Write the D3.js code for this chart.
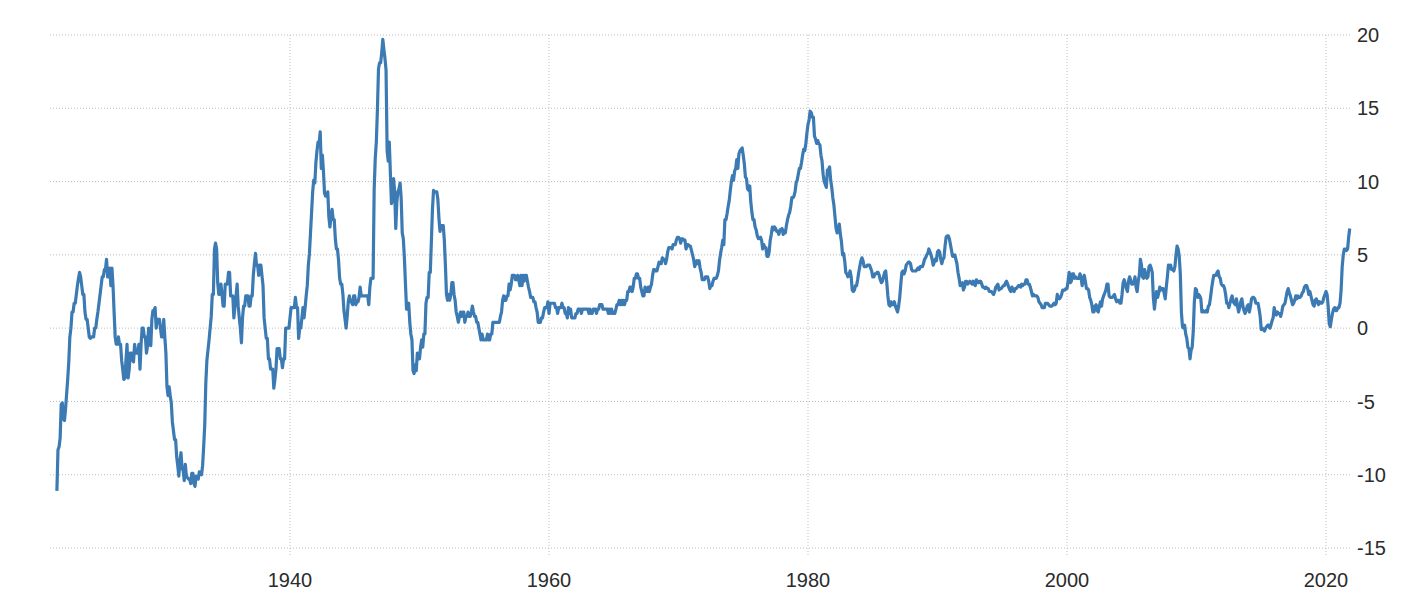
<!DOCTYPE html>
<html>
<head>
<meta charset="utf-8">
<script src="https://cdn.jsdelivr.net/npm/d3@7"></script>
<style>
  html, body { margin: 0; padding: 0; background: #ffffff; }
  svg { display: block; }
</style>
</head>
<body>
<svg id="chart" width="1420" height="609"></svg>
<script>
// US inflation rate, year-on-year %, monthly from Jan 1922 to Nov 2021
const startYear = 1922;
const inflation = [
  // 1922
  -11.1, -8.3, -8.1, -7.5, -5.2, -5.1, -6.2, -6.3, -5.5, -4.5, -3.5, -2.3,
  // 1923
  -0.6, 0.0, 1.1, 1.1, 1.7, 1.7, 2.3, 2.9, 3.4, 3.8, 3.5, 2.9,
  // 1924
  2.3, 2.3, 1.1, 0.6, 0.6, 0.0, -0.6, -0.7, -0.6, -0.6, -0.6, 0.0,
  // 1925
  0.0, 0.6, 1.1, 1.7, 2.3, 2.9, 3.5, 3.5, 4.0, 4.0, 4.7, 3.5,
  // 1926
  3.5, 4.1, 2.9, 4.1, 2.9, 1.1, -0.6, -1.1, -1.1, -0.6, -1.1, -1.1,
  // 1927
  -2.2, -2.8, -3.5, -3.4, -2.2, -1.1, -3.4, -2.8, -1.7, -1.7, -2.2, -2.3,
  // 1928
  -1.1, -1.7, -1.7, -1.7, -1.1, -2.8, -1.1, 0.0, 0.0, -0.6, -0.6, -1.7,
  // 1929
  -1.2, 0.0, -0.6, -1.2, 0.6, 1.2, 1.2, 1.4, 0.0, 0.6, 0.6, 0.6,
  // 1930
  0.0, -0.6, -0.6, 0.6, -0.6, -1.7, -4.0, -4.6, -4.0, -4.6, -5.1, -6.4,
  // 1931
  -7.0, -7.6, -7.6, -8.8, -9.4, -10.1, -9.0, -8.5, -9.6, -9.7, -10.4, -9.3,
  // 1932
  -10.1, -10.2, -10.3, -10.3, -10.6, -9.9, -9.9, -10.6, -10.8, -10.1, -10.2, -10.3,
  // 1933
  -9.8, -9.9, -10.0, -9.4, -8.1, -6.6, -3.7, -2.2, -1.5, -0.8, 0.0, 0.8,
  // 1934
  2.3, 2.3, 5.4, 5.8, 5.4, 3.1, 2.3, 2.3, 3.0, 2.3, 1.5, 1.5,
  // 1935
  3.0, 3.0, 3.0, 3.8, 3.8, 2.2, 2.2, 2.2, 0.7, 1.5, 2.2, 3.0,
  // 1936
  1.5, 0.7, 0.0, -1.0, 0.7, 1.5, 1.5, 2.2, 2.2, 2.2, 1.5, 1.5,
  // 1937
  2.2, 2.2, 3.6, 4.4, 5.1, 4.3, 4.3, 3.6, 4.3, 4.3, 3.6, 2.9,
  // 1938
  0.7, 0.0, -0.7, -0.7, -2.1, -2.1, -2.8, -2.8, -2.8, -4.1, -3.5, -2.8,
  // 1939
  -1.4, -1.4, -1.4, -2.1, -2.1, -2.7, -2.1, -2.1, 0.0, 0.0, 0.0, 0.0,
  // 1940
  0.7, 1.4, 1.4, 1.4, 1.4, 2.1, 1.4, 1.4, -0.7, 0.0, 0.0, 0.7,
  // 1941
  1.4, 0.7, 1.4, 2.2, 2.9, 4.3, 5.1, 6.5, 7.9, 9.3, 10.1, 9.9,
  // 1942
  11.3, 12.1, 12.7, 12.6, 13.4, 10.9, 11.8, 10.7, 9.2, 9.0, 9.0, 9.3,
  // 1943
  7.6, 6.9, 7.6, 8.1, 7.4, 7.4, 6.1, 5.4, 5.4, 4.6, 3.4, 3.0,
  // 1944
  3.0, 2.3, 1.2, 0.6, 0.0, 0.8, 1.8, 2.2, 1.8, 1.8, 1.6, 2.2,
  // 1945
  2.2, 1.6, 1.8, 1.8, 2.1, 2.8, 2.2, 2.2, 2.2, 2.2, 2.2, 2.2,
  // 1946
  2.2, 1.6, 2.8, 3.4, 3.4, 3.4, 9.5, 11.6, 12.7, 14.9, 17.7, 18.1,
  // 1947
  18.1, 18.8, 19.7, 19.0, 18.4, 17.6, 12.1, 11.4, 12.7, 10.6, 8.5, 8.8,
  // 1948
  10.2, 9.3, 6.8, 8.6, 9.3, 9.5, 9.9, 8.9, 6.5, 6.1, 4.8, 3.0,
  // 1949
  1.3, 1.3, 1.7, 0.4, -0.4, -0.8, -2.9, -3.1, -2.5, -2.9, -1.7, -2.1,
  // 1950
  -2.1, -1.3, -0.8, -1.3, -0.4, -0.4, 1.7, 2.1, 2.1, 3.8, 3.8, 5.9,
  // 1951
  8.1, 9.4, 9.3, 9.3, 9.3, 8.8, 7.5, 6.6, 7.0, 7.0, 7.0, 6.0,
  // 1952
  4.3, 2.3, 1.9, 2.3, 1.9, 2.3, 3.1, 3.1, 2.3, 1.9, 1.1, 0.8,
  // 1953
  0.4, 0.8, 1.1, 0.8, 1.1, 1.1, 0.4, 0.8, 0.8, 1.1, 0.8, 0.8,
  // 1954
  1.1, 1.5, 1.1, 0.8, 0.8, 0.4, 0.4, 0.0, -0.4, -0.8, -0.4, -0.8,
  // 1955
  -0.8, -0.8, -0.8, -0.4, -0.8, -0.8, -0.4, -0.4, 0.4, 0.4, 0.4, 0.4,
  // 1956
  0.4, 0.4, 0.4, 0.8, 1.1, 1.9, 2.2, 1.9, 1.9, 2.2, 2.2, 3.0,
  // 1957
  2.6, 3.0, 3.6, 3.6, 3.6, 3.3, 3.3, 3.6, 3.3, 2.9, 3.6, 2.9,
  // 1958
  3.6, 3.2, 3.6, 3.6, 3.2, 2.8, 2.5, 2.1, 2.1, 2.1, 1.8, 1.8,
  // 1959
  1.4, 1.1, 0.4, 0.4, 0.4, 0.7, 0.7, 1.1, 1.4, 1.4, 1.4, 1.8,
  // 1960
  1.0, 1.7, 1.7, 1.7, 1.7, 1.7, 1.4, 1.4, 1.0, 1.4, 1.4, 1.4,
  // 1961
  1.7, 1.4, 1.4, 1.0, 1.0, 0.7, 1.4, 1.0, 1.3, 0.7, 0.7, 0.7,
  // 1962
  0.7, 1.0, 1.0, 1.3, 1.3, 1.3, 1.0, 1.3, 1.3, 1.3, 1.3, 1.3,
  // 1963
  1.3, 1.0, 1.3, 1.0, 1.0, 1.3, 1.3, 1.3, 1.0, 1.3, 1.3, 1.6,
  // 1964
  1.6, 1.6, 1.3, 1.3, 1.3, 1.3, 1.3, 1.0, 1.3, 1.0, 1.3, 1.0,
  // 1965
  1.0, 1.0, 1.3, 1.6, 1.6, 1.9, 1.6, 1.9, 1.6, 1.9, 1.6, 1.9,
  // 1966
  1.9, 2.5, 2.5, 2.8, 2.8, 2.5, 2.8, 3.4, 3.4, 3.7, 3.7, 3.4,
  // 1967
  3.4, 2.8, 2.5, 2.2, 2.2, 2.8, 2.5, 2.5, 2.8, 2.5, 2.8, 3.0,
  // 1968
  3.6, 4.0, 4.0, 3.9, 3.9, 4.2, 4.5, 4.4, 4.4, 4.8, 4.7, 4.7,
  // 1969
  4.4, 4.7, 5.2, 5.5, 5.5, 5.5, 5.4, 5.7, 5.7, 5.7, 6.0, 6.2,
  // 1970
  6.2, 6.1, 5.8, 6.1, 6.1, 6.0, 6.0, 5.4, 5.7, 5.7, 5.6, 5.6,
  // 1971
  5.3, 5.0, 4.7, 4.2, 4.4, 4.6, 4.4, 4.6, 4.1, 3.8, 3.3, 3.3,
  // 1972
  3.3, 3.5, 3.5, 3.5, 3.2, 2.7, 2.9, 2.9, 3.2, 3.4, 3.4, 3.4,
  // 1973
  3.6, 3.9, 4.6, 5.1, 5.5, 6.0, 5.7, 7.4, 7.4, 7.8, 8.3, 8.7,
  // 1974
  9.4, 10.0, 10.4, 10.1, 10.7, 10.9, 11.5, 10.9, 11.9, 12.1, 12.2, 12.3,
  // 1975
  11.8, 11.2, 10.3, 10.2, 9.5, 9.4, 9.7, 8.6, 7.9, 7.4, 7.4, 6.9,
  // 1976
  6.7, 6.3, 6.1, 6.1, 6.2, 6.0, 5.4, 5.7, 5.5, 5.5, 4.9, 4.9,
  // 1977
  5.2, 6.0, 6.4, 6.9, 6.7, 6.9, 6.8, 6.6, 6.6, 6.4, 6.7, 6.7,
  // 1978
  6.8, 6.4, 6.6, 6.5, 7.0, 7.4, 7.7, 7.9, 8.3, 8.9, 8.9, 9.0,
  // 1979
  9.3, 9.9, 10.1, 10.5, 10.9, 10.9, 11.3, 11.8, 12.2, 12.1, 12.6, 13.3,
  // 1980
  13.9, 14.2, 14.8, 14.7, 14.4, 14.4, 13.1, 12.9, 12.6, 12.8, 12.6, 12.5,
  // 1981
  11.8, 11.4, 10.5, 10.0, 9.8, 9.6, 10.8, 10.8, 11.0, 10.1, 9.6, 8.9,
  // 1982
  8.4, 7.6, 6.8, 6.5, 6.7, 7.1, 6.4, 5.9, 5.0, 5.1, 4.6, 3.8,
  // 1983
  3.7, 3.5, 3.6, 3.9, 3.5, 2.6, 2.5, 2.6, 2.9, 2.9, 3.3, 3.8,
  // 1984
  4.2, 4.6, 4.8, 4.6, 4.2, 4.2, 4.2, 4.3, 4.3, 4.3, 4.1, 3.9,
  // 1985
  3.5, 3.5, 3.7, 3.7, 3.8, 3.8, 3.6, 3.3, 3.1, 3.2, 3.5, 3.8,
  // 1986
  3.9, 3.1, 2.2, 1.6, 1.5, 1.8, 1.6, 1.6, 1.8, 1.5, 1.3, 1.1,
  // 1987
  1.5, 2.1, 3.0, 3.8, 3.9, 3.7, 3.9, 4.3, 4.4, 4.5, 4.5, 4.4,
  // 1988
  4.0, 3.9, 3.9, 3.9, 3.9, 4.0, 4.1, 4.0, 4.2, 4.2, 4.2, 4.4,
  // 1989
  4.7, 4.8, 5.0, 5.1, 5.4, 5.2, 5.0, 4.7, 4.3, 4.5, 4.7, 4.6,
  // 1990
  5.2, 5.3, 5.2, 4.7, 4.4, 4.7, 4.8, 5.6, 6.2, 6.3, 6.3, 6.1,
  // 1991
  5.7, 5.3, 4.9, 4.9, 5.0, 4.7, 4.4, 3.8, 3.4, 2.9, 3.0, 3.1,
  // 1992
  2.6, 2.8, 3.2, 3.2, 3.0, 3.1, 3.2, 3.1, 3.0, 3.2, 3.0, 2.9,
  // 1993
  3.3, 3.2, 3.1, 3.2, 3.2, 3.0, 2.8, 2.8, 2.7, 2.8, 2.7, 2.7,
  // 1994
  2.5, 2.5, 2.5, 2.4, 2.3, 2.5, 2.8, 2.9, 3.0, 2.6, 2.7, 2.7,
  // 1995
  2.8, 2.9, 2.9, 3.1, 3.2, 3.0, 2.8, 2.6, 2.5, 2.8, 2.6, 2.5,
  // 1996
  2.7, 2.7, 2.8, 2.9, 2.9, 2.8, 3.0, 2.9, 3.0, 3.0, 3.3, 3.3,
  // 1997
  3.0, 3.0, 2.8, 2.5, 2.2, 2.3, 2.2, 2.2, 2.2, 2.1, 1.8, 1.7,
  // 1998
  1.6, 1.4, 1.4, 1.4, 1.7, 1.7, 1.7, 1.6, 1.5, 1.5, 1.5, 1.6,
  // 1999
  1.7, 1.6, 1.7, 2.3, 2.1, 2.0, 2.1, 2.3, 2.6, 2.6, 2.6, 2.7,
  // 2000
  2.7, 3.2, 3.8, 3.1, 3.2, 3.7, 3.7, 3.4, 3.5, 3.4, 3.4, 3.4,
  // 2001
  3.7, 3.5, 2.9, 3.3, 3.6, 3.2, 2.7, 2.7, 2.6, 2.1, 1.9, 1.6,
  // 2002
  1.1, 1.1, 1.5, 1.6, 1.2, 1.1, 1.5, 1.8, 1.5, 2.0, 2.2, 2.4,
  // 2003
  2.6, 3.0, 3.0, 2.2, 2.1, 2.1, 2.1, 2.2, 2.3, 2.0, 1.8, 1.9,
  // 2004
  1.9, 1.7, 1.7, 2.3, 3.1, 3.3, 3.0, 2.7, 2.5, 3.2, 3.5, 3.3,
  // 2005
  3.0, 3.0, 3.1, 3.5, 2.8, 2.5, 3.2, 3.6, 4.7, 4.3, 3.5, 3.4,
  // 2006
  4.0, 3.6, 3.4, 3.5, 4.2, 4.3, 4.1, 3.8, 2.1, 1.3, 2.0, 2.5,
  // 2007
  2.1, 2.4, 2.8, 2.6, 2.7, 2.7, 2.4, 2.0, 2.8, 3.5, 4.3, 4.1,
  // 2008
  4.3, 4.0, 4.0, 3.9, 4.2, 5.0, 5.6, 5.4, 4.9, 3.7, 1.1, 0.1,
  // 2009
  0.0, 0.2, -0.4, -0.7, -1.3, -1.4, -2.1, -1.5, -1.3, -0.2, 1.8, 2.7,
  // 2010
  2.6, 2.1, 2.3, 2.2, 2.0, 1.1, 1.2, 1.1, 1.1, 1.2, 1.1, 1.5,
  // 2011
  1.6, 2.1, 2.7, 3.2, 3.6, 3.6, 3.6, 3.8, 3.9, 3.5, 3.4, 3.0,
  // 2012
  2.9, 2.9, 2.7, 2.3, 1.7, 1.7, 1.4, 1.7, 2.0, 2.2, 1.8, 1.7,
  // 2013
  1.6, 2.0, 1.5, 1.1, 1.4, 1.8, 2.0, 1.5, 1.2, 1.0, 1.2, 1.5,
  // 2014
  1.6, 1.1, 1.5, 2.0, 2.1, 2.1, 2.0, 1.7, 1.7, 1.7, 1.3, 0.8,
  // 2015
  -0.1, 0.0, -0.1, -0.2, 0.0, 0.1, 0.2, 0.2, 0.0, 0.2, 0.5, 0.7,
  // 2016
  1.4, 1.0, 0.9, 1.1, 1.0, 1.0, 0.8, 1.1, 1.5, 1.6, 1.7, 2.1,
  // 2017
  2.5, 2.7, 2.4, 2.2, 1.9, 1.6, 1.7, 1.9, 2.2, 2.0, 2.2, 2.1,
  // 2018
  2.1, 2.2, 2.4, 2.5, 2.8, 2.9, 2.9, 2.7, 2.3, 2.5, 2.2, 1.9,
  // 2019
  1.6, 1.5, 1.9, 2.0, 1.8, 1.6, 1.8, 1.7, 1.7, 1.8, 2.1, 2.3,
  // 2020
  2.5, 2.3, 1.5, 0.3, 0.1, 0.6, 1.0, 1.3, 1.4, 1.2, 1.2, 1.4,
  // 2021
  1.4, 1.7, 2.6, 4.2, 5.0, 5.4, 5.4, 5.3, 5.4, 6.2, 6.8
];
const xTicks = [1940, 1960, 1980, 2000, 2020];
const yTicks = [-15, -10, -5, 0, 5, 10, 15, 20];

const svg = d3.select("#chart");

const x = d3.scaleLinear().domain([1940, 2020]).range([290, 1326]);
const y = d3.scaleLinear().domain([-15, 20]).range([548, 35]);

const gridLeft = 50, gridRight = 1350;

// horizontal grid
svg.append("g").selectAll("line").data(yTicks).join("line")
  .attr("x1", gridLeft).attr("x2", gridRight)
  .attr("y1", d => y(d)).attr("y2", d => y(d))
  .attr("stroke", "#bdbdbd").attr("stroke-width", 1)
  .attr("stroke-dasharray", "1,2");

// vertical grid
svg.append("g").selectAll("line").data(xTicks).join("line")
  .attr("x1", d => x(d)).attr("x2", d => x(d))
  .attr("y1", y(20)).attr("y2", y(-15) + 8)
  .attr("stroke", "#bdbdbd").attr("stroke-width", 1)
  .attr("stroke-dasharray", "1,2");

// y labels
svg.append("g").selectAll("text").data(yTicks).join("text")
  .attr("x", 1357).attr("y", d => y(d))
  .attr("dy", "0.36em")
  .attr("font-family", "'Liberation Sans', Arial, sans-serif")
  .attr("font-size", 20)
  .attr("fill", "#2b2b2b")
  .text(d => d);

// x labels
svg.append("g").selectAll("text").data(xTicks).join("text")
  .attr("x", d => x(d)).attr("y", 587)
  .attr("text-anchor", "middle")
  .attr("font-family", "'Liberation Sans', Arial, sans-serif")
  .attr("font-size", 20)
  .attr("fill", "#2b2b2b")
  .text(d => d);

// line
const line = d3.line()
  .x((d, i) => x(startYear + i / 12))
  .y(d => y(d));

svg.append("path")
  .datum(inflation)
  .attr("d", line)
  .attr("fill", "none")
  .attr("stroke", "#3b7ab3")
  .attr("stroke-width", 3.2)
  .attr("stroke-linejoin", "round");
</script>
</body>
</html>
